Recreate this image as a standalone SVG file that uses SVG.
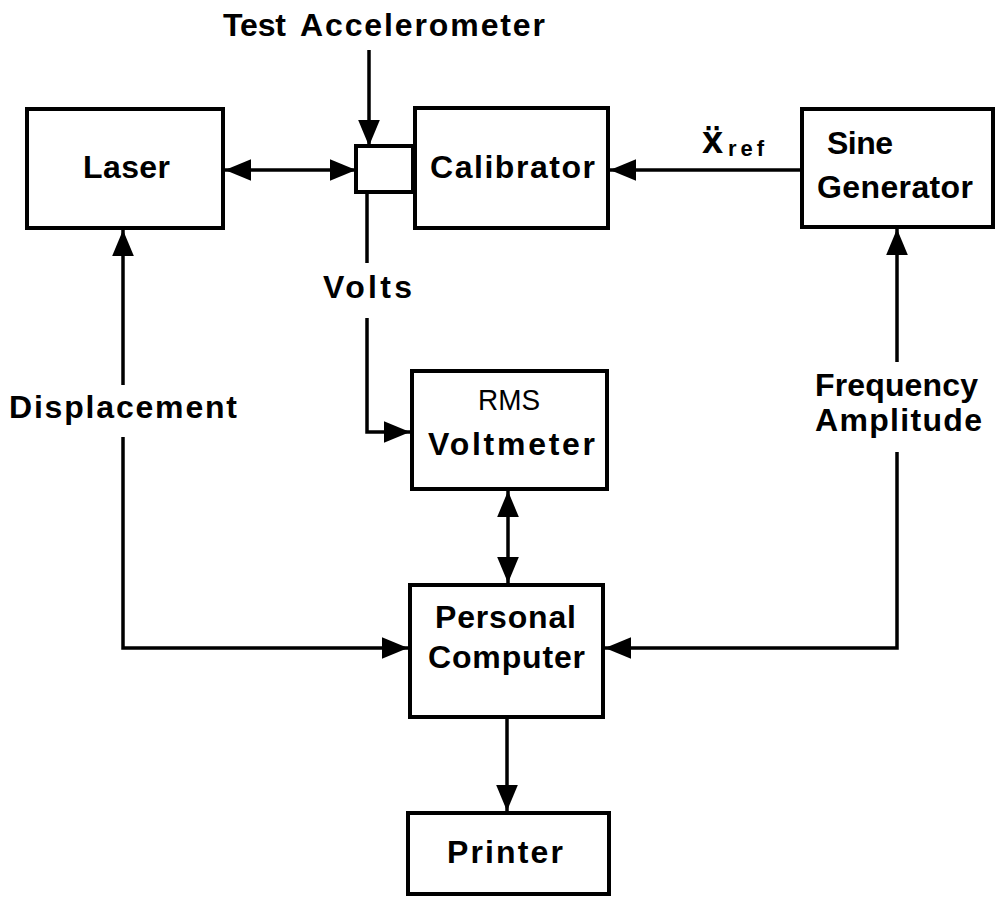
<svg xmlns="http://www.w3.org/2000/svg" width="997" height="900" viewBox="0 0 997 900">
<style>
.box{fill:#fff;stroke:#000;stroke-width:4}
.t{font-family:"Liberation Sans","DejaVu Sans",Arial,sans-serif;font-weight:bold;font-size:32px;fill:#000}
.c{fill:none;stroke:#000;stroke-width:3.5}
</style>
<defs>
<marker id="ah" markerUnits="userSpaceOnUse" markerWidth="26" markerHeight="22" refX="24" refY="10" orient="auto-start-reverse" viewBox="0 0 24 20">
<path d="M0,0 L24,10 L0,20 z" fill="#000"/>
</marker>
</defs>
<rect width="997" height="900" fill="#fff"/>
<g id="connectors">
<path class="c" d="M369,50 L369,146" marker-end="url(#ah)"/>
<path class="c" d="M225,170 L356,170" marker-start="url(#ah)" marker-end="url(#ah)"/>
<path class="c" d="M802,170 L610,170" marker-end="url(#ah)"/>
<path class="c" d="M367,192 L367,263"/>
<path class="c" d="M367,318 L367,432 L410,432" marker-end="url(#ah)"/>
<path class="c" d="M508,491 L508,583" marker-start="url(#ah)" marker-end="url(#ah)"/>
<path class="c" d="M507,719 L507,811" marker-end="url(#ah)"/>
<path class="c" d="M123,385 L123,230" marker-end="url(#ah)"/>
<path class="c" d="M123,437 L123,648 L408,648" marker-end="url(#ah)"/>
<path class="c" d="M897,362 L897,229" marker-end="url(#ah)"/>
<path class="c" d="M897,452 L897,648 L605,648" marker-end="url(#ah)"/>
</g>
<g id="labels">
<text class="t" x="223" y="36" textLength="63" lengthAdjust="spacing">Test</text>
<text class="t" x="300" y="36" textLength="245" lengthAdjust="spacing">Accelerometer</text>
<text class="t" x="702" y="153" style="font-size:38px">ẍ</text>
<text class="t" x="728" y="156" style="font-size:22px" textLength="36" lengthAdjust="spacing">ref</text>
<text class="t" x="323" y="298" textLength="89" lengthAdjust="spacing">Volts</text>
<text class="t" x="9" y="418" textLength="228" lengthAdjust="spacing">Displacement</text>
<text class="t" x="815" y="396" textLength="163" lengthAdjust="spacing">Frequency</text>
<text class="t" x="815" y="431" textLength="167" lengthAdjust="spacing">Amplitude</text>
</g>
<g id="laser">
<rect class="box" x="27" y="109" width="196" height="119"/>
<text class="t" x="83" y="178" textLength="87" lengthAdjust="spacing">Laser</text>
</g>
<g id="accelerometer">
<rect class="box" x="356" y="146" width="57" height="46"/>
</g>
<g id="calibrator">
<rect class="box" x="415" y="108" width="193" height="120"/>
<text class="t" x="430" y="178" textLength="165" lengthAdjust="spacing">Calibrator</text>
</g>
<g id="sine-generator">
<rect class="box" x="802" y="109" width="191" height="118"/>
<text class="t" x="827" y="154" textLength="66" lengthAdjust="spacing">Sine</text>
<text class="t" x="817" y="198" textLength="156" lengthAdjust="spacing">Generator</text>
</g>
<g id="rms-voltmeter">
<rect class="box" x="412" y="371" width="195" height="118"/>
<text class="t" x="478" y="410" style="font-size:29px;font-weight:normal" textLength="62" lengthAdjust="spacingAndGlyphs">RMS</text>
<text class="t" x="428" y="455" textLength="167" lengthAdjust="spacing">Voltmeter</text>
</g>
<g id="personal-computer">
<rect class="box" x="410" y="585" width="193" height="132"/>
<text class="t" x="435" y="628" textLength="141" lengthAdjust="spacing">Personal</text>
<text class="t" x="428" y="668" textLength="157" lengthAdjust="spacing">Computer</text>
</g>
<g id="printer">
<rect class="box" x="408" y="813" width="201" height="81"/>
<text class="t" x="447" y="863" textLength="116" lengthAdjust="spacing">Printer</text>
</g>
</svg>
